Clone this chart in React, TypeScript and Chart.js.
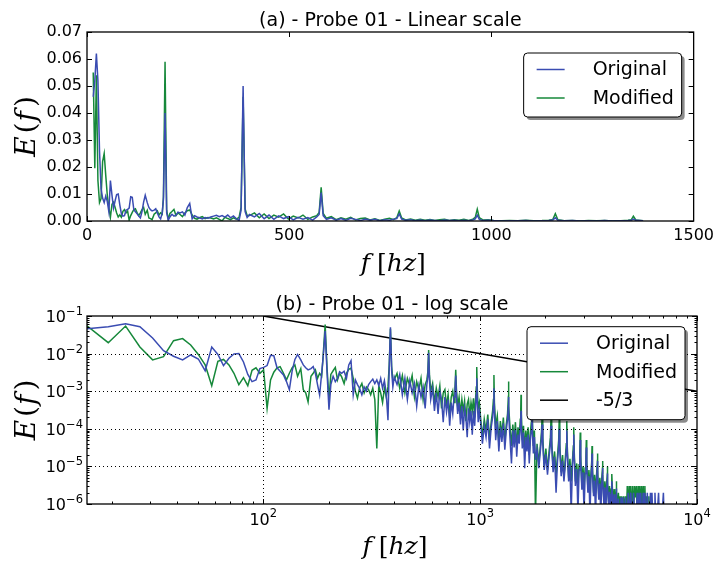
import React, { useEffect, useRef } from "react";
import { Chart, registerables } from "chart.js";

Chart.register(...registerables);

// ---------------- data (frequency in Hz, energy E(f)) ----------------
const freqLow = [15.4, 19.3, 23.2, 27.0, 30.9, 34.7, 38.6, 42.5, 46.3, 50.2, 54.0, 57.9, 61.8, 65.6, 69.5, 73.3, 77.2, 81.1, 84.9, 88.8, 92.6, 96.5, 100.4, 104.2, 108.1, 111.9, 115.8, 119.7];
const origLow = [0.046, 0.052, 0.062, 0.052, 0.026, 0.012, 0.0085, 0.0068, 0.0092, 0.0072, 0.0035, 0.015, 0.0095, 0.0048, 0.0075, 0.0098, 0.010, 0.006, 0.0028, 0.0018, 0.002, 0.004, 0.0043, 0.0048, 0.009, 0.0088, 0.0042, 0.0034];
const modLow = [0.055, 0.0195, 0.054, 0.015, 0.0068, 0.0083, 0.022, 0.025, 0.017, 0.0095, 0.005, 0.0014, 0.0062, 0.007, 0.005, 0.003, 0.0015, 0.0023, 0.0014, 0.0036, 0.0042, 0.003, 0.0037, 0.00035, 0.002, 0.0032, 0.0042, 0.0045];

const freqMid = [124, 128, 132, 136, 140, 144, 149, 153, 157, 161, 166, 170, 174, 178, 182, 186, 189, 193, 197, 201, 205, 210, 215, 220, 225, 230, 236, 242, 248, 254, 260, 266, 272, 278, 285, 292, 299, 306, 313, 320, 327, 334, 341, 348, 355, 362, 369, 376, 381, 386, 391, 396];
const origMid = [0.0027, 0.0018, 0.0011, 0.0035, 0.007, 0.0095, 0.0068, 0.005, 0.0042, 0.0037, 0.004, 0.0045, 0.003, 0.0015, 0.0008, 0.003, 0.008, 0.040, 0.003, 0.00032, 0.0015, 0.0025, 0.0018, 0.0022, 0.0033, 0.003, 0.0034, 0.0022, 0.005, 0.0065, 0.0008, 0.002, 0.0015, 0.0012, 0.0008, 0.0013, 0.001, 0.0015, 0.0018, 0.0021, 0.0016, 0.002, 0.0014, 0.0022, 0.0012, 0.0019, 0.0009, 0.00017, 0.004, 0.050, 0.0035, 0.0013];
const modMid = [0.003, 0.002, 0.003, 0.0042, 0.005, 0.0025, 0.004, 0.0011, 0.0009, 0.00052, 0.0025, 0.003, 0.0037, 0.0022, 0.003, 0.0025, 0.009, 0.059, 0.004, 0.0006, 0.0028, 0.0035, 0.0043, 0.002, 0.003, 0.0024, 0.0016, 0.003, 0.0038, 0.0041, 0.0022, 0.001, 0.00065, 0.0012, 0.0016, 0.0009, 0.0013, 0.0011, 0.0008, 0.0012, 0.0006, 0.00003, 0.0014, 0.0009, 0.0005, 0.0012, 0.0007, 0.0013, 0.005, 0.046, 0.0045, 0.002];

const freqC1 = [402, 414, 426, 438, 450, 462, 474, 486, 498, 510, 522, 534, 546, 558, 568, 574, 579, 584, 592, 604, 616, 628, 640, 652, 664, 676, 688, 700, 712, 724, 736, 748, 758, 766, 772, 778, 788, 800, 812, 824, 836, 848, 860, 872, 884, 896, 908, 920, 932, 944, 954, 960, 965, 970, 980, 992];
const origC1 = [2.4e-3, 1.5e-3, 2.8e-3, 8e-4, 2.2e-3, 6e-4, 1.9e-3, 9e-4, 1.6e-3, 4e-4, 1.4e-3, 7e-4, 1.3e-3, 3.5e-4, 1.5e-3, 2.4e-3, 1.05e-2, 2.0e-3, 6e-4, 1.2e-3, 3e-4, 9e-4, 2.5e-4, 1.0e-3, 6e-4, 1.5e-4, 7e-4, 2.8e-4, 6e-4, 1.2e-4, 5e-4, 2.5e-4, 7e-4, 9e-4, 2.6e-3, 7e-4, 2.5e-4, 5e-4, 1.3e-4, 4e-4, 9e-5, 3.5e-4, 2e-4, 6e-5, 3.5e-4, 1.5e-4, 3e-4, 7e-5, 3e-4, 1.2e-4, 4e-4, 8e-4, 2.2e-3, 6e-4, 1.5e-4, 3e-4];
const modC1 = [2.0e-3, 3.0e-3, 1.2e-3, 2.6e-3, 9e-4, 2.2e-3, 1.4e-3, 2.6e-3, 7e-4, 1.8e-3, 1.1e-3, 2.2e-3, 6e-4, 1.5e-3, 2.0e-3, 3.2e-3, 1.25e-2, 2.8e-3, 1.0e-3, 1.6e-3, 5e-4, 1.2e-3, 7e-4, 1.4e-3, 3.5e-4, 9e-4, 1.1e-3, 4e-4, 8e-4, 2.2e-4, 7e-4, 1.0e-3, 5e-4, 1.2e-3, 3.7e-3, 1.1e-3, 4e-4, 7e-4, 2.5e-4, 6e-4, 3e-4, 5.5e-4, 1.6e-4, 4.5e-4, 6e-4, 2.2e-4, 5e-4, 3e-4, 6.5e-4, 2e-4, 7e-4, 1.3e-3, 4.4e-3, 1.2e-3, 3.5e-4, 5e-4];

const freqC2 = [1005, 1025, 1045, 1065, 1085, 1105, 1125, 1142, 1152, 1158, 1164, 1180, 1200, 1220, 1240, 1260, 1280, 1300, 1320, 1338, 1346, 1351, 1357, 1375, 1395, 1415, 1435, 1455, 1475, 1495, 1515, 1532, 1540, 1544, 1549, 1565, 1585, 1605, 1625, 1645, 1665, 1685, 1705, 1722, 1732, 1737, 1742, 1760, 1780];
const origC2 = [1.5e-4, 4e-5, 1.2e-4, 6e-5, 1.8e-4, 3e-5, 1.1e-4, 2e-4, 4e-4, 1.2e-3, 3e-4, 5e-5, 1.6e-4, 2.5e-5, 1.1e-4, 4.5e-5, 1.4e-4, 2.8e-5, 9e-5, 1.8e-4, 3e-4, 7e-4, 2.5e-4, 5e-5, 1.2e-5, 9e-5, 3.2e-5, 1e-4, 1.8e-5, 7e-5, 4e-5, 1.2e-4, 2e-4, 3e-4, 1.2e-4, 3e-5, 8e-5, 9e-6, 6e-5, 2.5e-5, 7e-5, 1.2e-5, 5e-5, 9e-5, 1.4e-4, 2e-4, 9e-5, 2.2e-5, 6e-5];
const modC2 = [2.0e-4, 6e-5, 1.8e-4, 9e-5, 2.4e-4, 5e-5, 1.5e-4, 3e-4, 6e-4, 2.7e-3, 5e-4, 1.2e-4, 2.2e-4, 4e-5, 1.6e-4, 7e-5, 2.0e-4, 4.5e-5, 1.3e-4, 2.5e-4, 5e-4, 1.8e-3, 4e-4, 1.0e-4, 3.5e-5, 1.3e-4, 5e-5, 1.5e-4, 3e-5, 1.1e-4, 6e-5, 1.8e-4, 3.5e-4, 8e-4, 2.5e-4, 5e-5, 1.2e-4, 2.5e-5, 9e-5, 4e-5, 1.1e-4, 2e-5, 8e-5, 1.5e-4, 2.5e-4, 3.5e-4, 1.6e-4, 3.5e-5, 9e-5];

const freqD = [1800, 1830, 1865, 1895, 1918, 1930, 1945, 1975, 2010, 2045, 2080, 2110, 2123, 2138, 2170, 2205, 2240, 2275, 2303, 2316, 2330, 2365, 2400, 2435, 2470, 2497, 2509, 2522, 2560, 2595, 2630, 2665, 2690, 2702, 2716, 2750, 2790, 2825, 2860, 2883, 2895, 2909, 2945, 2980, 3015, 3050, 3076, 3088, 3102, 3140, 3175, 3210, 3245, 3269, 3281, 3295, 3335, 3370, 3405, 3440, 3462, 3474, 3490, 3525, 3565, 3600, 3635, 3655, 3667, 3682, 3720, 3760, 3795, 3830, 3848, 3860, 3875, 3915, 3950, 3990, 4025, 4041, 4053, 4068, 4110, 4150, 4190, 4234, 4246, 4262, 4300, 4340, 4380];
const origD = [1.5e-5, 2.8e-5, 9e-6, 2.5e-5, 5.5e-5, 1.3e-4, 4e-5, 8e-6, 2.1e-5, 6e-6, 1.8e-5, 4e-5, 1.2e-4, 3.5e-5, 7e-6, 1.8e-5, 2e-6, 1.4e-5, 3.5e-5, 1e-4, 2.8e-5, 5.5e-6, 1.4e-5, 4e-6, 1.1e-5, 2.8e-5, 9e-5, 2.5e-5, 4e-6, 1.1e-5, 6e-7, 1e-5, 2.5e-5, 7e-5, 1.8e-5, 3e-6, 8.5e-6, 6e-7, 8e-6, 1.8e-5, 5e-5, 1.4e-5, 2.4e-6, 7e-6, 6e-7, 6.5e-6, 1.3e-5, 3.2e-5, 1e-5, 2e-6, 5.5e-6, 5e-7, 5e-6, 9e-6, 2.2e-5, 7e-6, 1.6e-6, 4.2e-6, 5e-7, 4e-6, 7e-6, 1.4e-5, 5.5e-6, 1.3e-6, 3.5e-6, 5e-7, 3.2e-6, 5e-6, 9e-6, 4.2e-6, 1e-6, 2.8e-6, 5e-7, 2.5e-6, 3.5e-6, 6.5e-6, 2.8e-6, 9e-7, 2.1e-6, 5e-7, 1.8e-6, 2.5e-6, 4e-6, 2.1e-6, 5e-7, 1.8e-6, 5e-7, 1.8e-6, 2.6e-6, 1.4e-6, 5e-7, 1.4e-6, 5e-7];
const modD = [5e-7, 4e-5, 1.2e-5, 3.5e-5, 8e-5, 2e-4, 6e-5, 1.0e-5, 3e-5, 8e-6, 2.5e-5, 6e-5, 2e-4, 5e-5, 9e-6, 2.5e-5, 6e-6, 2e-5, 5e-5, 1.8e-4, 4e-5, 7e-6, 2e-5, 5e-6, 1.6e-5, 4e-5, 1.6e-4, 3.5e-5, 5e-6, 1.6e-5, 4e-6, 1.4e-5, 3.5e-5, 1.1e-4, 2.5e-5, 4e-6, 1.2e-5, 3.5e-6, 1.1e-5, 2.5e-5, 8e-5, 2e-5, 3e-6, 1e-5, 3e-6, 9e-6, 1.8e-5, 5e-5, 1.4e-5, 2.5e-6, 8e-6, 2.5e-6, 7e-6, 1.3e-5, 3.5e-5, 1e-5, 2e-6, 6e-6, 2e-6, 5.5e-6, 1e-5, 2.2e-5, 8e-6, 1.6e-6, 5e-6, 1.6e-6, 4.5e-6, 7e-6, 1.4e-5, 6e-6, 1.3e-6, 4e-6, 1.3e-6, 3.5e-6, 5e-6, 1e-5, 4e-6, 1.1e-6, 3e-6, 1.1e-6, 2.5e-6, 3.5e-6, 6.3e-6, 3e-6, 9e-7, 2.5e-6, 9e-7, 2.5e-6, 4e-6, 2e-6, 8e-7, 2e-6, 8e-7];

const freqE = [4420, 4460, 4500, 4545, 4590, 4635, 4680, 4725, 4770, 4815, 4860, 4905, 4950, 5000, 5050, 5100, 5150, 5200, 5250, 5300, 5350, 5400, 5450, 5500, 5550, 5600, 5650, 5700, 5750, 5800, 5850, 5900, 5950, 6000, 6050, 6100, 6150, 6200, 6250, 6300, 6350, 6400, 6450, 6500, 6550, 6600, 6650, 6700, 6750, 6800, 6850, 6900, 6950, 7000, 7050, 7100];
const origE = [5e-7, 1.5e-6, 5e-7, 1.5e-6, 5e-7, 5e-7, 1.5e-6, 5e-7, 5e-7, 2e-6, 5e-7, 5e-7, 2e-6, 5e-7, 5e-7, 2e-6, 5e-7, 5e-7, 5e-7, 2e-6, 5e-7, 2e-6, 5e-7, 2e-6, 5e-7, 5e-7, 2e-6, 5e-7, 2e-6, 5e-7, 5e-7, 2e-6, 5e-7, 5e-7, 5e-7, 2e-6, 5e-7, 2e-6, 5e-7, 5e-7, 5e-7, 2e-6, 5e-7, 5e-7, 5e-7, 5e-7, 2e-6, 5e-7, 5e-7, 5e-7, 5e-7, 5e-7, 5e-7, 2e-6, 5e-7, 5e-7];
const modE = [1.6e-6, 5e-7, 1.6e-6, 5e-7, 1.6e-6, 5e-7, 1.6e-6, 5e-7, 3e-6, 5e-7, 3e-6, 5e-7, 3e-6, 5e-7, 3e-6, 5e-7, 3e-6, 1.5e-6, 3e-6, 5e-7, 3e-6, 5e-7, 3e-6, 5e-7, 3e-6, 5e-7, 3e-6, 5e-7, 3e-6, 5e-7, 1.6e-6, 5e-7, 5e-7, 1.6e-6, 5e-7, 5e-7, 5e-7, 5e-7, 5e-7, 5e-7, 5e-7, 5e-7, 5e-7, 5e-7, 5e-7, 5e-7, 5e-7, 5e-7, 5e-7, 5e-7, 5e-7, 5e-7, 5e-7, 5e-7, 5e-7, 5e-7];

const freqAll = [...freqLow, ...freqMid, ...freqC1, ...freqC2, ...freqD, ...freqE];
const origAll = [...origLow, ...origMid, ...origC1, ...origC2, ...origD, ...origE];
const modAll = [...modLow, ...modMid, ...modC1, ...modC2, ...modD, ...modE];

// linear panel shows the spectrum only up to this frequency
const linearMaxHz = 1385;

// reference slope line
const slopeHz = [100, 10000];
const slopeE = [0.1, 0.001];

// ticks
const linXTicks = [0, 500, 1000, 1500];
const linXLabels = ["0", "500", "1000", "1500"];
const linYTicks = [0, 0.01, 0.02, 0.03, 0.04, 0.05, 0.06, 0.07];
const linYLabels = ["0.00", "0.01", "0.02", "0.03", "0.04", "0.05", "0.06", "0.07"];
const logXTicks = [100, 1000, 10000];
const logXExp = ["2", "3", "4"];
const logYTicks = [1e-6, 1e-5, 1e-4, 1e-3, 1e-2, 1e-1];
const logYExp = ["\u22126", "\u22125", "\u22124", "\u22123", "\u22122", "\u22121"];
const logBase = "10";

const titleA = "(a) - Probe 01 - Linear scale";
const titleB = "(b) - Probe 01 - log scale";
const labels = ["Original", "Modified", "-5/3"];

const BLUE = "#3a4cb2";
const GREEN = "#16883a";
const BLACK = "#000000";

const SANS = '"DejaVu Sans", sans-serif';
const SERIF = '"DejaVu Serif", serif';

function minorLog(decades: number[], lo: number, hi: number) {
  const out: number[] = [];
  for (const d of decades) for (let k = 2; k <= 9; k++) { const v = k * d; if (v > lo && v < hi) out.push(v); }
  return out;
}

type Part = { t: string; it: boolean; gap?: number };

function drawMath(ctx: CanvasRenderingContext2D, parts: Part[], size: number, x: number, y: number, rot: number) {
  ctx.save();
  ctx.translate(x, y);
  ctx.rotate(rot);
  const fonts = parts.map((p) => `${p.it ? "italic " : ""}${size}px ${SERIF}`);
  let total = 0;
  const widths = parts.map((p, i) => {
    ctx.font = fonts[i];
    const w = ctx.measureText(p.t).width + (p.gap || 0);
    total += w;
    return w;
  });
  let cx = -total / 2;
  ctx.textAlign = "left";
  ctx.textBaseline = "alphabetic";
  ctx.fillStyle = BLACK;
  parts.forEach((p, i) => {
    ctx.font = fonts[i];
    ctx.fillText(p.t, cx, 0);
    cx += widths[i];
  });
  ctx.restore();
}

function rrect(ctx: CanvasRenderingContext2D, x: number, y: number, w: number, h: number, r: number) {
  ctx.beginPath();
  ctx.moveTo(x + r, y);
  ctx.lineTo(x + w - r, y);
  ctx.quadraticCurveTo(x + w, y, x + w, y + r);
  ctx.lineTo(x + w, y + h - r);
  ctx.quadraticCurveTo(x + w, y + h, x + w - r, y + h);
  ctx.lineTo(x + r, y + h);
  ctx.quadraticCurveTo(x, y + h, x, y + h - r);
  ctx.lineTo(x, y + r);
  ctx.quadraticCurveTo(x, y, x + r, y);
  ctx.closePath();
}

type Decor = {
  title: string;
  xMajor: number[];
  xMinor: number[];
  yMajor: number[];
  yMinor: number[];
  grid: boolean;
  legendTop: number;
  legendH: number;
  powLabels: boolean;
};

const BASE_PX = 16;
const EXP_PX = 11.5;

function decorPlugin(o: Decor) {
  return {
    id: "decor",
    afterDatasetsDraw(chart: any) {
      const { ctx, chartArea: a, scales } = chart;
      const xs = scales.x;
      const ys = scales.y;
      ctx.save();
      const seg = (x1: number, y1: number, x2: number, y2: number) => {
        ctx.beginPath();
        ctx.moveTo(x1, y1);
        ctx.lineTo(x2, y2);
        ctx.stroke();
      };
      // grid (dotted)
      if (o.grid) {
        ctx.strokeStyle = BLACK;
        ctx.lineWidth = 1;
        ctx.setLineDash([1, 3]);
        for (const v of o.xMajor) {
          const p = Math.round(xs.getPixelForValue(v)) + 0.5;
          if (p > a.left + 2 && p < a.right - 2) seg(p, a.top, p, a.bottom);
        }
        for (const v of o.yMajor) {
          const p = Math.round(ys.getPixelForValue(v)) + 0.5;
          if (p > a.top + 2 && p < a.bottom - 2) seg(a.left, p, a.right, p);
        }
        ctx.setLineDash([]);
      }
      // inward ticks on all sides
      ctx.strokeStyle = BLACK;
      ctx.lineWidth = 1;
      const xt = (vals: number[], len: number) => {
        for (const v of vals) {
          const p = Math.round(xs.getPixelForValue(v)) + 0.5;
          if (p < a.left - 0.5 || p > a.right + 0.5) continue;
          seg(p, a.bottom, p, a.bottom - len);
          seg(p, a.top, p, a.top + len);
        }
      };
      const yt = (vals: number[], len: number) => {
        for (const v of vals) {
          const p = Math.round(ys.getPixelForValue(v)) + 0.5;
          if (p < a.top - 0.5 || p > a.bottom + 0.5) continue;
          seg(a.left, p, a.left + len, p);
          seg(a.right, p, a.right - len, p);
        }
      };
      xt(o.xMajor, 5);
      xt(o.xMinor, 2.5);
      yt(o.yMajor, 5);
      yt(o.yMinor, 2.5);
      // frame
      ctx.lineWidth = 1.3;
      ctx.strokeRect(a.left, a.top, a.right - a.left, a.bottom - a.top);

      // power-of-ten tick labels (base + superscript exponent)
      if (o.powLabels) {
        ctx.fillStyle = BLACK;
        ctx.textAlign = "left";
        ctx.textBaseline = "alphabetic";
        const baseFont = `${BASE_PX}px ${SANS}`;
        const expFont = `${EXP_PX}px ${SANS}`;
        ctx.font = baseFont;
        const bw = ctx.measureText(logBase).width;
        o.yMajor.forEach((v, i) => {
          const py = ys.getPixelForValue(v);
          ctx.font = expFont;
          const ew = ctx.measureText(logYExp[i]).width;
          const xEnd = a.left - 4;
          ctx.fillText(logYExp[i], xEnd - ew, py - 1);
          ctx.font = baseFont;
          ctx.fillText(logBase, xEnd - ew - bw, py + 6);
        });
        o.xMajor.forEach((v, i) => {
          const px = xs.getPixelForValue(v);
          ctx.font = expFont;
          const ew = ctx.measureText(logXExp[i]).width;
          const x0 = px - (bw + ew) / 2;
          ctx.font = baseFont;
          ctx.fillText(logBase, x0, a.bottom + 21);
          ctx.font = expFont;
          ctx.fillText(logXExp[i], x0 + bw, a.bottom + 13);
        });
      }

      // legend
      const lw = 158;
      const lx = a.right - 12 - lw;
      const ly = a.top + o.legendTop;
      ctx.fillStyle = "rgba(0,0,0,0.45)";
      rrect(ctx, lx + 3, ly + 3, lw, o.legendH, 4);
      ctx.fill();
      ctx.fillStyle = "#ffffff";
      rrect(ctx, lx, ly, lw, o.legendH, 4);
      ctx.fill();
      ctx.strokeStyle = BLACK;
      ctx.lineWidth = 1;
      ctx.stroke();
      ctx.font = `19px ${SANS}`;
      ctx.textAlign = "left";
      ctx.textBaseline = "middle";
      chart.data.datasets.forEach((ds: any, i: number) => {
        const cy = ly + 16.5 + i * 28.5;
        ctx.strokeStyle = ds.borderColor;
        ctx.lineWidth = 1.5;
        seg(lx + 13, cy, lx + 41, cy);
        ctx.fillStyle = BLACK;
        ctx.fillText(ds.label, lx + 69, cy + 1);
      });

      // title
      ctx.fillStyle = BLACK;
      ctx.font = `19px ${SANS}`;
      ctx.textAlign = "center";
      ctx.textBaseline = "alphabetic";
      ctx.fillText(o.title, (a.left + a.right) / 2, a.top - 6);

      // axis titles
      drawMath(ctx, [{ t: "f", it: true, gap: 7 }, { t: "[", it: false }, { t: "hz", it: true }, { t: "]", it: false }], 25, (a.left + a.right) / 2 + 3, a.bottom + 50, 0);
      drawMath(ctx, [{ t: "E", it: true, gap: 3 }, { t: "(", it: false, gap: 1 }, { t: "f", it: true, gap: 4 }, { t: ")", it: false }], 28, 35, (a.top + a.bottom) / 2, -Math.PI / 2);
      ctx.restore();
    },
  };
}

const tickFont = { family: SANS, size: 16 };

function lineDs(label: string, data: { x: number; y: number }[], color: string) {
  return { label, data, borderColor: color, backgroundColor: color, borderWidth: 1.5, pointRadius: 0, tension: 0, fill: false };
}

const noGrid = { display: false, drawTicks: false, tickLength: 0 };

function topConfig(): any {
  const idx = freqAll.map((_, i) => i).filter((i) => freqAll[i] <= linearMaxHz);
  return {
    type: "line",
    data: {
      datasets: [
        lineDs(labels[0], idx.map((i) => ({ x: freqAll[i], y: origAll[i] })), BLUE),
        lineDs(labels[1], idx.map((i) => ({ x: freqAll[i], y: modAll[i] })), GREEN),
      ],
    },
    options: {
      animation: false,
      responsive: false,
      events: [],
      layout: { padding: { left: 0, right: 22, top: 32, bottom: 0 } },
      plugins: { legend: { display: false }, tooltip: { enabled: false }, title: { display: false } },
      scales: {
        x: {
          type: "linear", min: 0, max: 1500,
          grid: noGrid, border: { display: false },
          afterBuildTicks: (s: any) => { s.ticks = linXTicks.map((v) => ({ value: v })); },
          afterFit: (s: any) => { s.height = 61; },
          ticks: { font: tickFont, color: BLACK, padding: 5, maxRotation: 0, autoSkip: false, callback: (_v: any, i: number) => linXLabels[i] },
        },
        y: {
          type: "linear", min: 0, max: 0.07,
          grid: noGrid, border: { display: false },
          afterBuildTicks: (s: any) => { s.ticks = linYTicks.map((v) => ({ value: v })); },
          afterFit: (s: any) => { s.width = 87; },
          ticks: { font: tickFont, color: BLACK, padding: 5, autoSkip: false, callback: (_v: any, i: number) => linYLabels[i] },
        },
      },
    },
    plugins: [decorPlugin({ title: titleA, xMajor: linXTicks, xMinor: [], yMajor: linYTicks, yMinor: [], grid: false, legendTop: 21, legendH: 64, powLabels: false })],
  };
}

function botConfig(): any {
  const xMin = freqAll[0];
  return {
    type: "line",
    data: {
      datasets: [
        lineDs(labels[0], freqAll.map((f, i) => ({ x: f, y: origAll[i] })), BLUE),
        lineDs(labels[1], freqAll.map((f, i) => ({ x: f, y: modAll[i] })), GREEN),
        lineDs(labels[2], slopeHz.map((f, i) => ({ x: f, y: slopeE[i] })), BLACK),
      ],
    },
    options: {
      animation: false,
      responsive: false,
      events: [],
      layout: { padding: { left: 0, right: 22, top: 34, bottom: 0 } },
      plugins: { legend: { display: false }, tooltip: { enabled: false }, title: { display: false } },
      scales: {
        x: {
          type: "logarithmic", min: xMin, max: 10000,
          grid: noGrid, border: { display: false },
          afterBuildTicks: (s: any) => { s.ticks = logXTicks.map((v) => ({ value: v })); },
          afterFit: (s: any) => { s.height = 61; },
          ticks: { display: false },
        },
        y: {
          type: "logarithmic", min: 1e-6, max: 1e-1,
          grid: noGrid, border: { display: false },
          afterBuildTicks: (s: any) => { s.ticks = logYTicks.map((v) => ({ value: v })); },
          afterFit: (s: any) => { s.width = 87; },
          ticks: { display: false },
        },
      },
    },
    plugins: [
      decorPlugin({
        title: titleB,
        xMajor: logXTicks,
        xMinor: minorLog([10, 100, 1000], xMin, 10000),
        yMajor: logYTicks,
        yMinor: minorLog([1e-6, 1e-5, 1e-4, 1e-3, 1e-2], 1e-6, 1e-1),
        grid: true,
        legendTop: 10.7,
        legendH: 93,
        powLabels: true,
      }),
    ],
  };
}

export default function App() {
  const topRef = useRef<HTMLCanvasElement>(null);
  const botRef = useRef<HTMLCanvasElement>(null);
  useEffect(() => {
    const c1 = new Chart(topRef.current as HTMLCanvasElement, topConfig());
    const c2 = new Chart(botRef.current as HTMLCanvasElement, botConfig());
    return () => {
      c1.destroy();
      c2.destroy();
    };
  }, []);
  return (
    <div style={{ position: "absolute", left: 0, top: 0, width: 719, height: 565, background: "#ffffff" }}>
      <canvas ref={topRef} width={719} height={282} style={{ position: "absolute", left: 0, top: 0 }} />
      <canvas ref={botRef} width={719} height={283} style={{ position: "absolute", left: 0, top: 282 }} />
    </div>
  );
}
